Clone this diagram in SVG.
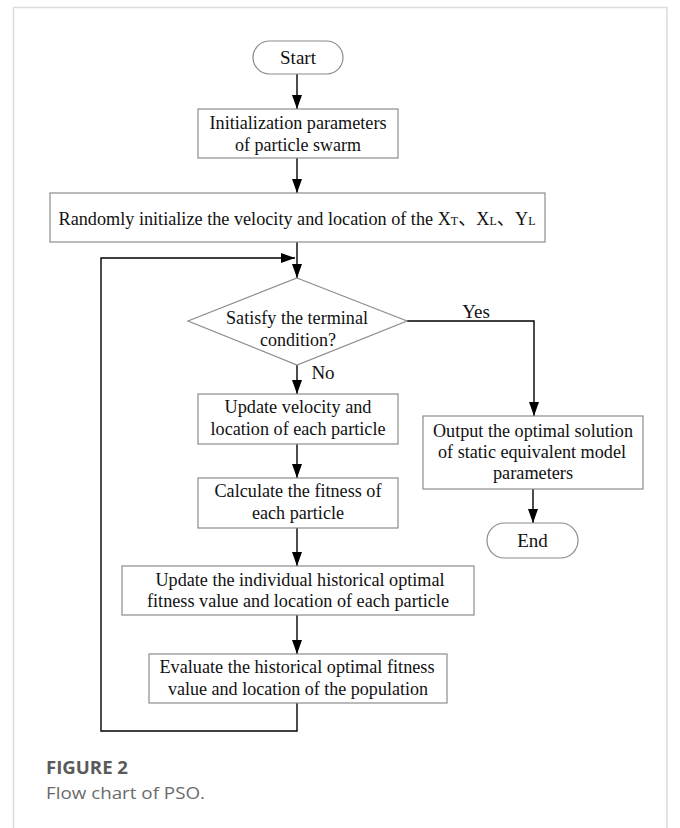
<svg xmlns="http://www.w3.org/2000/svg" width="680" height="828" viewBox="0 0 680 828">
<style>
.box{fill:#fff;stroke:#8c8c8c;stroke-width:1.2}
.t{font-family:"Liberation Serif","Noto Sans CJK SC",serif;font-size:19px;fill:#111;text-anchor:middle}
.sm{font-size:12.5px}
.c{fill:none;stroke:#000;stroke-width:1.4}
.cap{font-family:"Open Sans","Noto Sans",sans-serif;font-size:17px}
</style>
<defs>
<marker id="ah" markerUnits="userSpaceOnUse" markerWidth="14" markerHeight="10" refX="14" refY="5" orient="auto">
<path d="M0,0 L14,5 L0,10 z" fill="#000"/>
</marker>
</defs>
<rect width="680" height="828" fill="#fff"/>
<path d="M13.5,828 V7.5 H667 V828" fill="none" stroke="#dcdcdc" stroke-width="1.5"/>

<g id="connectors">
<line class="c" x1="297" y1="74" x2="297" y2="109" marker-end="url(#ah)"/>
<line class="c" x1="297" y1="158" x2="297" y2="193" marker-end="url(#ah)"/>
<line class="c" x1="297" y1="242" x2="297" y2="278" marker-end="url(#ah)"/>
<line class="c" x1="297" y1="365" x2="297" y2="394" marker-end="url(#ah)"/>
<line class="c" x1="297" y1="444" x2="297" y2="478" marker-end="url(#ah)"/>
<line class="c" x1="297" y1="528" x2="297" y2="566" marker-end="url(#ah)"/>
<line class="c" x1="297" y1="615" x2="297" y2="654" marker-end="url(#ah)"/>
<path class="c" d="M297,703 V731 H101 V258 H295" marker-end="url(#ah)"/>
<path class="c" d="M407,321 H534 V416" marker-end="url(#ah)"/>
<line class="c" x1="533" y1="489" x2="533" y2="523" marker-end="url(#ah)"/>
<text class="t" x="476" y="318">Yes</text>
<text class="t" x="323" y="379">No</text>
</g>

<g id="start">
<rect class="box" x="253" y="41" width="90" height="33" rx="16.5"/>
<text class="t" x="298" y="64">Start</text>
</g>
<g id="init">
<rect class="box" x="198" y="109" width="200" height="49"/>
<text class="t" x="298" y="129" textLength="177" lengthAdjust="spacingAndGlyphs">Initialization parameters</text>
<text class="t" x="298" y="151" textLength="126" lengthAdjust="spacingAndGlyphs">of particle swarm</text>
</g>
<g id="randomly">
<rect class="box" x="50" y="193" width="495" height="49"/>
<text class="t" x="297" y="225" textLength="477" lengthAdjust="spacingAndGlyphs">Randomly initialize the velocity and location of the X<tspan class="sm">T</tspan>、X<tspan class="sm">L</tspan>、Y<tspan class="sm">L</tspan></text>
</g>
<g id="decision">
<polygon class="box" points="297,278 407,321 297,365 188,321"/>
<text class="t" x="297" y="324" textLength="142" lengthAdjust="spacingAndGlyphs">Satisfy the terminal</text>
<text class="t" x="298" y="346" textLength="76" lengthAdjust="spacingAndGlyphs">condition?</text>
</g>
<g id="update-velocity">
<rect class="box" x="198" y="394" width="200" height="50"/>
<text class="t" x="298" y="413" textLength="147" lengthAdjust="spacingAndGlyphs">Update velocity and</text>
<text class="t" x="298" y="435" textLength="175" lengthAdjust="spacingAndGlyphs">location of each particle</text>
</g>
<g id="fitness">
<rect class="box" x="198" y="478" width="200" height="50"/>
<text class="t" x="298" y="497" textLength="167" lengthAdjust="spacingAndGlyphs">Calculate the fitness of</text>
<text class="t" x="298" y="519" textLength="92" lengthAdjust="spacingAndGlyphs">each particle</text>
</g>
<g id="update-individual">
<rect class="box" x="122" y="566" width="352" height="49"/>
<text class="t" x="300" y="586" textLength="289" lengthAdjust="spacingAndGlyphs">Update the individual historical optimal</text>
<text class="t" x="298" y="607" textLength="302" lengthAdjust="spacingAndGlyphs">fitness value and location of each particle</text>
</g>
<g id="evaluate">
<rect class="box" x="149" y="654" width="298" height="49"/>
<text class="t" x="297" y="673" textLength="275" lengthAdjust="spacingAndGlyphs">Evaluate the historical optimal fitness</text>
<text class="t" x="298" y="695" textLength="260" lengthAdjust="spacingAndGlyphs">value and location of the population</text>
</g>
<g id="output">
<rect class="box" x="423" y="416" width="220" height="73"/>
<text class="t" x="533" y="437" textLength="200" lengthAdjust="spacingAndGlyphs">Output the optimal solution</text>
<text class="t" x="532" y="458" textLength="188" lengthAdjust="spacingAndGlyphs">of static equivalent model</text>
<text class="t" x="533" y="479" textLength="80" lengthAdjust="spacingAndGlyphs">parameters</text>
</g>
<g id="end">
<rect class="box" x="487" y="523" width="91" height="35" rx="17.5"/>
<text class="t" x="532.5" y="547">End</text>
</g>

<text class="cap" x="46" y="774" font-weight="bold" fill="#5a5a5a" textLength="82" lengthAdjust="spacingAndGlyphs">FIGURE 2</text>
<text class="cap" x="46" y="799" fill="#6a6a6a" textLength="159" lengthAdjust="spacingAndGlyphs">Flow chart of PSO.</text>
</svg>
